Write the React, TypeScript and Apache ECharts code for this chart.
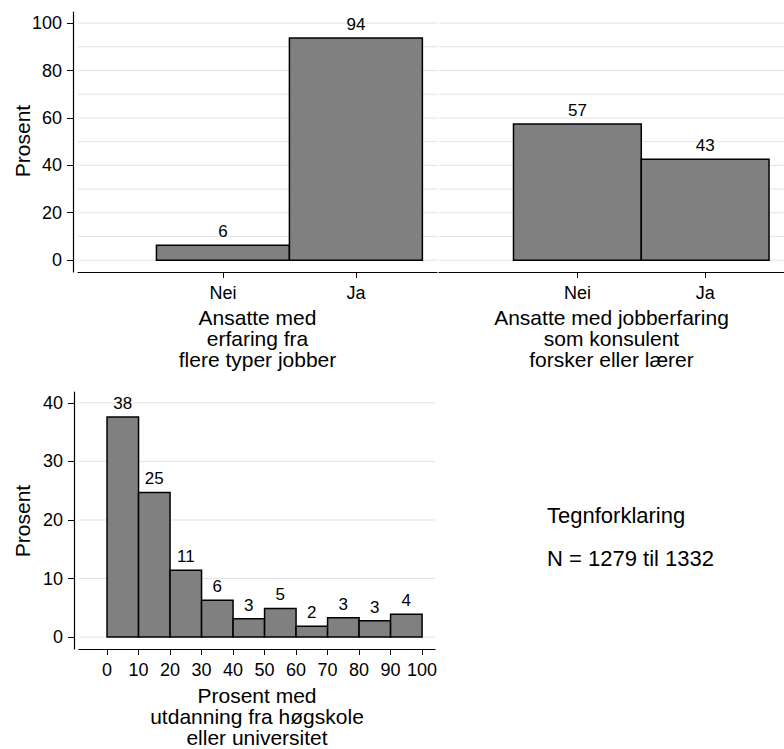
import React, { useEffect, useRef } from "react";
import * as echarts from "echarts";

const FONT = "'Liberation Sans', Arial, Helvetica, sans-serif";

// ---- data ----
const catsA = ["Nei", "Ja"];
const valuesA = [6.3, 93.7];
const catsB = ["Nei", "Ja"];
const valuesB = [57.4, 42.6];
const histEdges = [0, 10, 20, 30, 40, 50, 60, 70, 80, 90, 100];
const histValues = [37.6, 24.7, 11.4, 6.3, 3.15, 4.9, 1.85, 3.3, 2.8, 3.9];
const yTicksTop = [0, 20, 40, 60, 80, 100];
const yGridTop = [0, 10, 20, 30, 40, 50, 60, 70, 80, 90, 100];
const yTicksBottom = [0, 10, 20, 30, 40];
const xTicksBottom = [0, 10, 20, 30, 40, 50, 60, 70, 80, 90, 100];
const titleA = "Ansatte med\nerfaring fra\nflere typer jobber";
const titleB = "Ansatte med jobberfaring\nsom konsulent\nforsker eller lærer";
const titleC = "Prosent med\nutdanning fra høgskole\neller universitet";
const yTitle = "Prosent";
const legendLines = ["Tegnforklaring", "N = 1279 til 1332"];

const catBars = (vals: number[]) => vals.map((v, i) => [i - 0.5, i + 0.5, v]);
const histBars = histValues.map((v, i) => [histEdges[i], histEdges[i + 1], v]);

function renderBar(params: any, api: any) {
  const x0 = api.value(0);
  const x1 = api.value(1);
  const v = api.value(2);
  const tl = api.coord([x0, v]);
  const br = api.coord([x1, 0]);
  return {
    type: "group",
    children: [
      {
        type: "rect",
        shape: { x: tl[0], y: tl[1], width: br[0] - tl[0], height: br[1] - tl[1] },
        style: { fill: "#808080", stroke: "#000", lineWidth: 1.5 },
      },
      {
        type: "text",
        style: {
          x: (tl[0] + br[0]) / 2,
          y: tl[1] - 5,
          text: String(Math.round(v)),
          align: "center",
          verticalAlign: "bottom",
          fontSize: 17,
          fontFamily: FONT,
          fill: "#000",
        },
      },
    ],
  };
}

function renderGrid(params: any, api: any) {
  const cs = params.coordSys;
  const y = api.coord([api.value(0), api.value(1)])[1];
  return {
    type: "line",
    shape: { x1: cs.x, y1: y, x2: cs.x + cs.width, y2: y },
    style: { stroke: "#e2e2e2", lineWidth: 1 },
  };
}

const axisLabelStyle = { fontSize: 18, fontFamily: FONT, color: "#000" };
const nameStyle = { fontSize: 21, fontFamily: FONT, color: "#000", lineHeight: 21 };

function catXAxis(gridIndex: number, cats: string[], min: number, max: number, name: string) {
  return {
    type: "value",
    gridIndex,
    min,
    max,
    name,
    nameLocation: "middle",
    nameGap: 35,
    nameTextStyle: nameStyle,
    axisLine: { show: true, onZero: false, lineStyle: { color: "#000", width: 1.2 } },
    axisTick: { show: true, length: 6, customValues: cats.map((_, i) => i), lineStyle: { color: "#000" } },
    axisLabel: {
      ...axisLabelStyle,
      margin: 12,
      customValues: cats.map((_, i) => i),
      formatter: (v: number) => cats[Math.round(v)] ?? "",
    },
    splitLine: { show: false },
  };
}

function leftYAxis(gridIndex: number, min: number, max: number, ticks: number[]) {
  return {
    type: "value",
    gridIndex,
    min,
    max,
    offset: 5,
    axisLine: { show: true, onZero: false, lineStyle: { color: "#000", width: 1.2 } },
    axisTick: { show: true, length: 6, customValues: ticks, lineStyle: { color: "#000" } },
    axisLabel: { ...axisLabelStyle, margin: 11, customValues: ticks },
    splitLine: { show: false },
  };
}

const yTitleText = (x: number, y: number) => ({
  type: "text",
  x,
  y,
  rotation: Math.PI / 2,
  style: { text: yTitle, fontSize: 21, fontFamily: FONT, fill: "#000", align: "center", verticalAlign: "middle" },
});

export default function App() {
  const ref = useRef<HTMLDivElement>(null);
  useEffect(() => {
    if (!ref.current) return;
    const chart = echarts.init(ref.current, null, { renderer: "svg" });
    const option: any = {
      animation: false,
      backgroundColor: "#fff",
      textStyle: { fontFamily: FONT },
      grid: [
        { left: 78, top: 12, width: 359, height: 260 },
        { left: 439, top: 12, width: 359, height: 260 },
        { left: 79, top: 392, width: 356, height: 260 },
      ],
      xAxis: [
        catXAxis(0, catsA, -1.09, 1.61, titleA),
        catXAxis(1, catsB, -1.083, 1.617, titleB),
        {
          type: "value",
          gridIndex: 2,
          min: -8.9,
          max: 104.1,
          name: titleC,
          nameLocation: "middle",
          nameGap: 36,
          nameTextStyle: nameStyle,
          axisLine: { show: true, onZero: false, lineStyle: { color: "#000", width: 1.2 } },
          axisTick: { show: true, length: 6, customValues: xTicksBottom, lineStyle: { color: "#000" } },
          axisLabel: { ...axisLabelStyle, margin: 12, customValues: xTicksBottom },
          splitLine: { show: false },
        },
      ],
      yAxis: [
        leftYAxis(0, -5, 104.7, yTicksTop),
        {
          type: "value",
          gridIndex: 1,
          min: -5,
          max: 104.7,
          show: false,
        },
        leftYAxis(2, -2.03, 41.85, yTicksBottom),
      ],
      series: [
        { type: "custom", xAxisIndex: 0, yAxisIndex: 0, z: 1, silent: true, renderItem: renderGrid, data: yGridTop.map((v) => [0, v]) },
        { type: "custom", xAxisIndex: 1, yAxisIndex: 1, z: 1, silent: true, renderItem: renderGrid, data: yGridTop.map((v) => [0, v]) },
        { type: "custom", xAxisIndex: 2, yAxisIndex: 2, z: 1, silent: true, renderItem: renderGrid, data: yTicksBottom.map((v) => [0, v]) },
        { type: "custom", xAxisIndex: 0, yAxisIndex: 0, z: 2, renderItem: renderBar, data: catBars(valuesA) },
        { type: "custom", xAxisIndex: 1, yAxisIndex: 1, z: 2, renderItem: renderBar, data: catBars(valuesB) },
        { type: "custom", xAxisIndex: 2, yAxisIndex: 2, z: 2, renderItem: renderBar, data: histBars },
      ],
      graphic: [
        yTitleText(22, 141),
        yTitleText(22, 521),
        {
          type: "text",
          x: 547,
          y: 515,
          style: { text: legendLines[0], fontSize: 22, fontFamily: FONT, fill: "#000", align: "left", verticalAlign: "middle" },
        },
        {
          type: "text",
          x: 547,
          y: 558,
          style: { text: legendLines[1], fontSize: 22, fontFamily: FONT, fill: "#000", align: "left", verticalAlign: "middle" },
        },
      ],
    };
    chart.setOption(option);
    return () => chart.dispose();
  }, []);
  return (
    <div
      ref={ref}
      style={{ position: "absolute", left: 0, top: 0, width: 784, height: 749, background: "#fff" }}
    />
  );
}
